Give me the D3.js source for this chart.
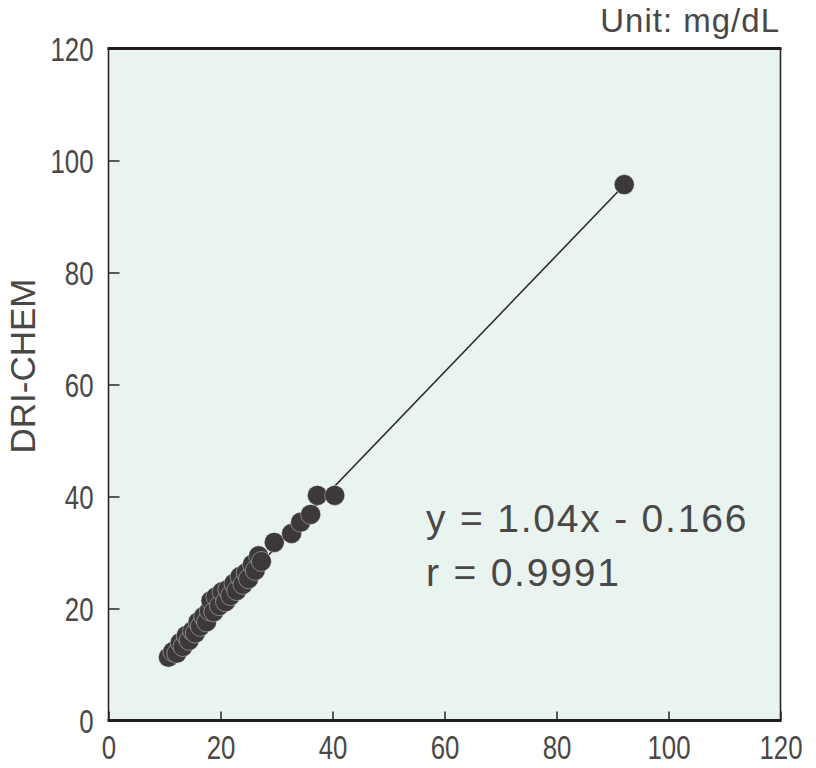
<!DOCTYPE html>
<html><head><meta charset="utf-8">
<script src="https://cdn.jsdelivr.net/npm/d3@7"></script>
<style>body{margin:0;background:#fff}svg{display:block}</style>
</head><body>
<svg id="c" width="816" height="768"></svg>
<script>
const xTicks = [0, 20, 40, 60, 80, 100, 120];
const yTicks = [0, 20, 40, 60, 80, 100, 120];
const xVals = [10.7, 11.5, 12.2, 12.8, 13.3, 13.9, 14.4, 15.0, 15.5, 16.0, 16.4, 17.0, 17.5, 18.0, 18.3, 18.8, 19.2, 19.8, 20.3, 20.9, 21.3, 21.8, 22.4, 22.9, 23.5, 24.0, 24.6, 25.0, 25.7, 26.2, 26.8, 27.3, 29.6, 32.7, 34.3, 36.1, 37.3, 40.4, 92.1];
const yVals = [11.3, 12.3, 12.0, 13.9, 13.2, 15.2, 14.3, 16.0, 15.6, 17.6, 16.8, 18.6, 17.6, 19.6, 21.4, 19.4, 22.1, 20.5, 23.0, 21.2, 23.4, 22.3, 24.5, 23.2, 25.7, 24.3, 26.4, 25.3, 27.9, 26.8, 29.4, 28.4, 31.8, 33.4, 35.4, 36.8, 40.2, 40.2, 95.7];
const slope = 1.04, intercept = -0.166;
const lineRange = [10.7, 92.1];
const eqText = "y = 1.04x - 0.166";
const rText = "r = 0.9991";
const yLabel = "DRI-CHEM";
const unitText = "Unit: mg/dL";

const svg = d3.select("#c");
const L = 108.5, R = 780.5, T = 48.5, B = 720.5;
const x = d3.scaleLinear().domain([0, 120]).range([L, R]);
const y = d3.scaleLinear().domain([0, 120]).range([B, T]);
const sans = "'Liberation Sans', Arial, sans-serif";
const txt = "#4a4747";
const sx = 0.76;

svg.append("rect").attr("x", L).attr("y", T).attr("width", R - L).attr("height", B - T)
  .attr("fill", "#e9f3f0");

// regression line
svg.append("line")
  .attr("x1", x(lineRange[0])).attr("y1", y(slope * lineRange[0] + intercept))
  .attr("x2", x(lineRange[1])).attr("y2", y(slope * lineRange[1] + intercept))
  .attr("stroke", "#2f2b2b").attr("stroke-width", 1.6);

// points
const pts = xVals.map((v, i) => [v, yVals[i]]);
svg.append("g").selectAll("circle").data(pts).join("circle")
  .attr("cx", d => x(d[0])).attr("cy", d => y(d[1])).attr("r", 10)
  .attr("fill", "#3d3939").attr("stroke", "#f4faf8").attr("stroke-width", 0.4);

// axes
const gx = svg.append("g").attr("transform", `translate(0,${B})`)
  .call(d3.axisBottom(x).tickValues(xTicks).tickSizeInner(-9).tickSizeOuter(0).tickPadding(14));
const gy = svg.append("g").attr("transform", `translate(${L},0)`)
  .call(d3.axisLeft(y).tickValues(yTicks).tickSizeInner(-11).tickSizeOuter(0).tickPadding(13));
[gx, gy].forEach(g => {
  g.select(".domain").remove();
  g.selectAll(".tick line").attr("stroke", "#2a2626").attr("stroke-width", 1.5);
  g.selectAll(".tick text").attr("fill", txt).style("font-family", sans).style("font-size", "34px")
    .attr("transform", `scale(${sx},1)`);
});
gx.selectAll(".tick text").attr("y", 39).attr("dy", 0);
gy.selectAll(".tick text").attr("x", -15 / sx).attr("dy", "0.36em");

// frame
svg.append("line").attr("x1", L).attr("x2", L).attr("y1", T).attr("y2", B).attr("stroke", "#2a2626").attr("stroke-width", 1.6);
svg.append("line").attr("x1", R).attr("x2", R).attr("y1", T).attr("y2", B).attr("stroke", "#2a2626").attr("stroke-width", 1.6);
svg.append("line").attr("x1", L - 1).attr("x2", R + 1).attr("y1", T).attr("y2", T).attr("stroke", "#221e1e").attr("stroke-width", 3);
svg.append("line").attr("x1", L - 1).attr("x2", R + 1).attr("y1", B).attr("y2", B).attr("stroke", "#221e1e").attr("stroke-width", 3);

// texts
svg.append("text").attr("x", 780).attr("y", 32).attr("text-anchor", "end")
  .attr("fill", txt).style("font-family", sans).style("font-size", "33px").style("letter-spacing", "1px").text(unitText);
svg.append("text").attr("transform", "translate(35,366) rotate(-90)").attr("text-anchor", "middle")
  .attr("fill", txt).style("font-family", sans).style("font-size", "35px").text(yLabel);
svg.append("text").attr("x", 426).attr("y", 532)
  .attr("fill", txt).style("font-family", sans).style("font-size", "39px").style("letter-spacing", "1.8px").text(eqText);
svg.append("text").attr("x", 426).attr("y", 586)
  .attr("fill", txt).style("font-family", sans).style("font-size", "39px").style("letter-spacing", "1.8px").text(rText);
</script>
</body></html>
